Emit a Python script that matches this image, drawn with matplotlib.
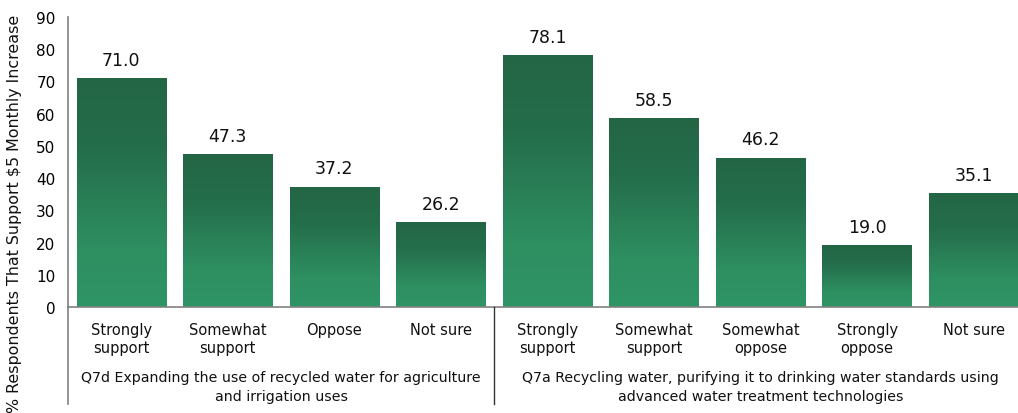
import matplotlib
matplotlib.use("Agg")
import matplotlib.pyplot as plt
from matplotlib.lines import Line2D
from matplotlib.colors import LinearSegmentedColormap
import numpy as np

# data
categories = ["Strongly\nsupport", "Somewhat\nsupport", "Oppose", "Not sure",
              "Strongly\nsupport", "Somewhat\nsupport", "Somewhat\noppose",
              "Strongly\noppose", "Not sure"]
values = [71.0, 47.3, 37.2, 26.2, 78.1, 58.5, 46.2, 19.0, 35.1]
group_titles = ["Q7d Expanding the use of recycled water for agriculture\nand irrigation uses",
                "Q7a Recycling water, purifying it to drinking water standards using\nadvanced water treatment technologies"]
group_sizes = [4, 5]
yticks = list(range(0, 100, 10))

W, H = 1018, 414
fig = plt.figure(figsize=(W / 100, H / 100), dpi=100)
ax = fig.add_axes([68 / W, (H - 308) / H, (1027 - 68) / W, (308 - 18) / H])

green = LinearSegmentedColormap.from_list(
    "grad", [(0, "#2f9466"), (0.25, "#2e8f61"), (0.7, "#246d4b"), (1, "#236645")])
grad = np.linspace(0, 1, 256).reshape(-1, 1)

bw = 0.84
for i, v in enumerate(values):
    ax.imshow(grad, cmap=green, aspect="auto", origin="lower",
              extent=[i - bw / 2, i + bw / 2, 0, v], interpolation="bicubic", zorder=2)
    ax.annotate(f"{v:.1f}", (i, v), xytext=(0, 7), textcoords="offset points",
                ha="center", va="bottom", fontsize=12.5, color="#111111")

ax.set_xlim(-0.5, len(values) - 0.5)
ax.set_ylim(0, 90)
ax.set_yticks(yticks)
ax.set_yticklabels([str(t) for t in yticks], fontsize=11)
ax.tick_params(axis="y", length=0, pad=9)
ax.set_xticks([])
for s in ["top", "right", "left"]:
    ax.spines[s].set_visible(False)
ax.spines["bottom"].set_color("#808080")
ax.spines["bottom"].set_linewidth(1.2)
ax.patch.set_alpha(0)

# category labels and group titles below the axis
to_fig = lambda xd: ax.transData.transform((xd, 0))[0] / W
for i, c in enumerate(categories):
    lines = c.split("\n")
    for k, ln in enumerate(lines):
        fig.text(to_fig(i), 1 - (331 + 18 * k) / H, ln, ha="center", va="center",
                 fontsize=10.5, color="#111111")

start = 0
for title, n in zip(group_titles, group_sizes):
    mid = start + (n - 1) / 2
    for k, ln in enumerate(title.split("\n")):
        fig.text(to_fig(mid), 1 - (378 + 19 * k) / H, ln, ha="center", va="center",
                 fontsize=10.2, color="#111111")
    start += n

# left axis line extends below zero, plus group separator
fig.add_artist(Line2D([68 / W, 68 / W], [1 - 18 / H, 1 - 405 / H], color="#808080", lw=1.2))
xs = to_fig(group_sizes[0] - 0.5)
fig.add_artist(Line2D([xs, xs], [1 - 308 / H, 1 - 405 / H], color="#333333", lw=1.0))

fig.text(15 / W, 1 - 214 / H, "% Respondents That Support \\$5 Monthly Increase",
         rotation=90, ha="center", va="center", fontsize=11.4, color="#111111")

fig.savefig("out.png", dpi=100)
